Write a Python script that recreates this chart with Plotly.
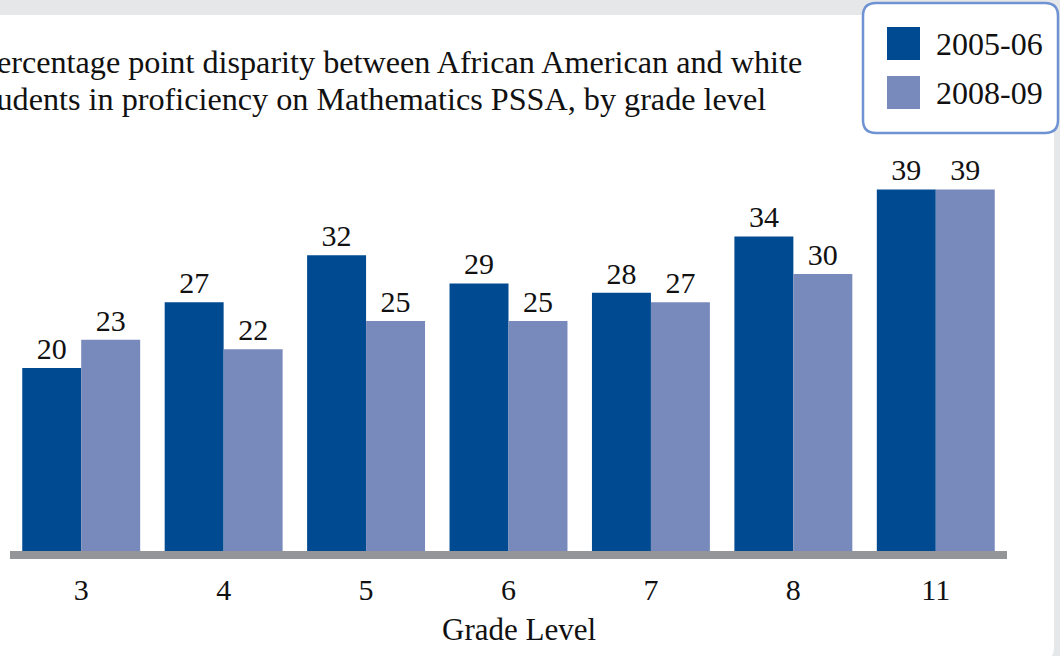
import plotly.graph_objects as go

# ---------------- data ----------------
grades = ["3", "4", "5", "6", "7", "8", "11"]
series_names = ["2005-06", "2008-09"]
vals_2005_06 = [20, 27, 32, 29, 28, 34, 39]
vals_2008_09 = [23, 22, 25, 25, 27, 30, 39]
title_lines = [
    "Percentage point disparity between African American and white",
    "students in proficiency on Mathematics PSSA, by grade level",
]
x_title = "Grade Level"

# ---------------- styles ----------------
DARK = "#004a91"
LIGHT = "#7889bb"
GRAY_BG = "#e6e7e9"
BASE_GRAY = "#939598"
BORDER_BLUE = "#6e92d2"
FONT = "Liberation Serif, Times New Roman, serif"

W_FIG, H_FIG = 1060, 656
L, R = 10, 53
T = 15
ZERO_PX = 556
SCALE = 9.4
B = H_FIG - ZERO_PX
PW = W_FIG - L - R
PH = H_FIG - T - B
YMAX = PH / SCALE


def px(x):
    return (x - L) / PW


def py(y):
    return (H_FIG - B - y) / PH


def rrect(x0, y0, x1, y1, r):
    pts = [
        ("M", [(x0 + r, y0)]),
        ("L", [(x1 - r, y0)]),
        ("Q", [(x1, y0), (x1, y0 + r)]),
        ("L", [(x1, y1 - r)]),
        ("Q", [(x1, y1), (x1 - r, y1)]),
        ("L", [(x0 + r, y1)]),
        ("Q", [(x0, y1), (x0, y1 - r)]),
        ("L", [(x0, y0 + r)]),
        ("Q", [(x0, y0), (x0 + r, y0)]),
    ]
    s = ""
    for cmd, ps in pts:
        s += cmd + " " + " ".join(f"{px(a):.5f},{py(b):.5f}" for a, b in ps) + " "
    return s + "Z"


fig = go.Figure()
for name, vals, col in [
    (series_names[0], vals_2005_06, DARK),
    (series_names[1], vals_2008_09, LIGHT),
]:
    fig.add_trace(
        go.Bar(
            x=grades,
            y=vals,
            name=name,
            marker=dict(color=col, line=dict(width=0)),
            text=vals,
            texttemplate="%{text}",
            textposition="outside",
            textfont=dict(family=FONT, size=30, color="#111111"),
            cliponaxis=False,
            showlegend=False,
        )
    )

shapes = [
    # white panel
    dict(type="path", xref="paper", yref="paper", path=rrect(-30, 15, 1054, 660, 12),
         fillcolor="white", line=dict(width=0), layer="below"),
    # baseline
    dict(type="rect", xref="x", yref="paper", x0=-0.5, x1=6.5, y0=py(559), y1=py(551),
         fillcolor=BASE_GRAY, line=dict(width=0), layer="above"),
    # legend box
    dict(type="path", xref="paper", yref="paper", path=rrect(863, 3, 1058, 133, 13),
         fillcolor="white", line=dict(color=BORDER_BLUE, width=2.5), layer="above"),
    # legend swatches
    dict(type="rect", xref="paper", yref="paper", x0=px(887), x1=px(920), y0=py(60), y1=py(27),
         fillcolor=DARK, line=dict(width=0), layer="above"),
    dict(type="rect", xref="paper", yref="paper", x0=px(887), x1=px(920), y0=py(109), y1=py(76),
         fillcolor=LIGHT, line=dict(width=0), layer="above"),
]

annotations = [
    dict(text=title_lines[0], x=px(-23), y=py(62), xref="paper", yref="paper",
         xanchor="left", yanchor="middle", align="left", showarrow=False,
         font=dict(family=FONT, size=32.2, color="#111111")),
    dict(text=title_lines[1], x=px(-27), y=py(99), xref="paper", yref="paper",
         xanchor="left", yanchor="middle", align="left", showarrow=False,
         font=dict(family=FONT, size=32.2, color="#111111")),
    dict(text=x_title, x=px(519), y=py(629), xref="paper", yref="paper",
         xanchor="center", yanchor="middle", showarrow=False,
         font=dict(family=FONT, size=31, color="#111111")),
    dict(text=series_names[0], x=px(934), y=py(44), xref="paper", yref="paper",
         xanchor="left", yanchor="middle", showarrow=False,
         font=dict(family=FONT, size=32, color="#111111")),
    dict(text=series_names[1], x=px(934), y=py(93), xref="paper", yref="paper",
         xanchor="left", yanchor="middle", showarrow=False,
         font=dict(family=FONT, size=32, color="#111111")),
]

fig.update_layout(
    width=W_FIG,
    height=H_FIG,
    margin=dict(l=L, r=R, t=T, b=B, pad=0),
    paper_bgcolor=GRAY_BG,
    plot_bgcolor="rgba(0,0,0,0)",
    barmode="group",
    bargap=0.172,
    bargroupgap=0,
    shapes=shapes,
    annotations=annotations,
    font=dict(family=FONT, color="#111111"),
    xaxis=dict(
        type="category",
        range=[-0.5, 6.5],
        showgrid=False,
        zeroline=False,
        showline=False,
        ticks="outside",
        ticklen=7,
        tickcolor="rgba(0,0,0,0)",
        tickfont=dict(family=FONT, size=30, color="#111111"),
        fixedrange=True,
    ),
    yaxis=dict(
        range=[0, YMAX],
        showgrid=False,
        zeroline=False,
        showline=False,
        showticklabels=False,
        fixedrange=True,
    ),
)

fig.write_html("out.html")
